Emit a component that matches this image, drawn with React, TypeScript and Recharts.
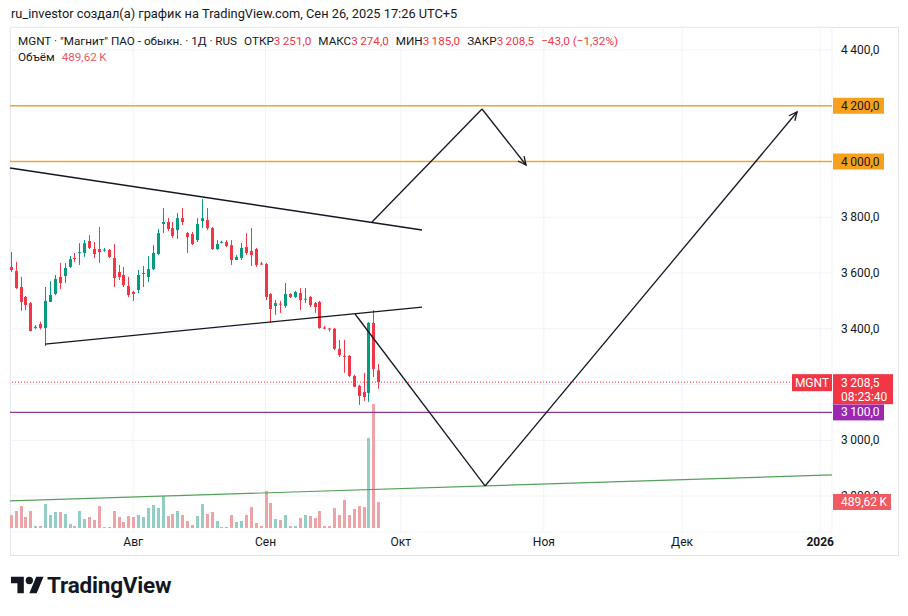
import React from 'react';
import { ComposedChart, Bar, XAxis, YAxis, CartesianGrid, ReferenceLine } from 'recharts';

// ---- data ----
const opens = [3622, 3607, 3550, 3514, 3492, 3403, 3417, 3403, 3496, 3525, 3586, 3589, 3622, 3654, 3672, 3672, 3715, 3686, 3686, 3681, 3683, 3654, 3604, 3593, 3554, 3532, 3539, 3597, 3586, 3614, 3668, 3776, 3783, 3761, 3754, 3797, 3743, 3740, 3718, 3786, 3790, 3761, 3686, 3709, 3711, 3700, 3647, 3654, 3693, 3679, 3686, 3634, 3632, 3525, 3482, 3490, 3482, 3525, 3514, 3528, 3505, 3514, 3492, 3496, 3404, 3401, 3400, 3328, 3303, 3303, 3231, 3195, 3173, 3170, 3421, 3251];
const highs = [3675, 3640, 3586, 3518, 3496, 3413, 3425, 3550, 3571, 3593, 3636, 3636, 3661, 3672, 3707, 3718, 3736, 3711, 3765, 3690, 3686, 3704, 3629, 3622, 3586, 3536, 3611, 3625, 3661, 3700, 3758, 3833, 3797, 3783, 3815, 3833, 3747, 3747, 3797, 3865, 3833, 3765, 3718, 3716, 3718, 3718, 3665, 3708, 3743, 3761, 3690, 3640, 3636, 3528, 3503, 3500, 3564, 3528, 3536, 3546, 3546, 3518, 3496, 3500, 3410, 3404, 3403, 3360, 3360, 3306, 3235, 3199, 3242, 3424, 3467, 3274];
const lows = [3604, 3543, 3464, 3467, 3390, 3398, 3398, 3338, 3496, 3520, 3543, 3564, 3618, 3640, 3629, 3658, 3686, 3654, 3636, 3676, 3654, 3550, 3575, 3550, 3514, 3500, 3528, 3550, 3568, 3611, 3665, 3743, 3751, 3726, 3722, 3772, 3672, 3700, 3711, 3761, 3754, 3683, 3683, 3706, 3693, 3629, 3647, 3647, 3665, 3625, 3622, 3629, 3503, 3421, 3450, 3457, 3475, 3510, 3510, 3467, 3492, 3478, 3457, 3400, 3398, 3390, 3324, 3299, 3242, 3227, 3190, 3127, 3141, 3138, 3227, 3185];
const closes = [3611, 3546, 3496, 3485, 3392, 3407, 3403, 3500, 3521, 3579, 3564, 3618, 3650, 3650, 3675, 3707, 3690, 3668, 3675, 3684, 3658, 3582, 3586, 3557, 3521, 3525, 3593, 3600, 3614, 3672, 3743, 3783, 3758, 3733, 3797, 3783, 3729, 3704, 3776, 3797, 3761, 3686, 3704, 3712, 3697, 3647, 3658, 3690, 3672, 3665, 3629, 3632, 3514, 3471, 3492, 3487, 3525, 3514, 3532, 3503, 3508, 3485, 3478, 3403, 3402, 3399, 3328, 3306, 3299, 3231, 3192, 3159, 3155, 3421, 3256, 3208.5];
const volumesK = [245, 320, 414, 207, 320, 38, 38, 452, 245, 301, 301, 264, 75, 38, 320, 169, 207, 151, 414, 19, 19, 320, 207, 113, 226, 207, 245, 207, 377, 433, 377, 603, 226, 264, 320, 245, 132, 56, 226, 452, 264, 301, 132, 19, 19, 245, 113, 132, 245, 395, 94, 38, 697, 471, 169, 151, 245, 38, 38, 188, 245, 226, 188, 320, 38, 38, 377, 245, 527, 245, 358, 414, 395, 1695, 2335, 489.62];

const monthTicks = [26, 53, 80.6, 109.8, 138, 166.2];
const monthLabels = ['Авг', 'Сен', 'Окт', 'Ноя', 'Дек', '2026'];
const priceTicks = [2800, 3000, 3200, 3400, 3600, 3800, 4000, 4200, 4400];
const hiddenPriceTicks = [3200, 4000, 4200];
const coveredPriceTicks = [2800];

const levelOrange = [4200, 4000];
const levelPurple = 3100;
const lastPrice = 3208.5;
const lastVolumeK = 489.62;

const upperTrend = [[0.857, 3976.7], [84.94, 3754.3]];
const lowerTrend = [[8.0, 3345], [84.94, 3478]];
const arrowUp = [[74.73, 3783], [97.18, 4188.4], [106.16, 3987.5]];
const arrowDown = [[71.27, 3453], [97.8, 2836.1], [161.47, 4177.6]];
const supportLine = [[0.857, 2782.3], [168.6, 2875.6]];

const X_DOMAIN = [0.857, 168.6];
const PRICE_DOMAIN = [2671, 4482.5];
const VOL_DOMAIN = [-75.3, 9433.8];

// ---- styles ----
const INK = '#131722';
const UP = '#089981';
const DOWN = '#f23645';
const UP_VOL = '#92cdc6';
const DOWN_VOL = '#eea4a7';
const ORANGE_LINE = '#f2a230';
const ORANGE_BOX = '#f7a01c';
const PURPLE_LINE = '#8b3a8f';
const PURPLE_BOX = '#9c27b0';
const GREEN_LINE = '#55a05a';
const GRID = '#f0f3fa';
const FONT = 'Roboto, "Noto Sans", sans-serif';

const data = opens.map((o, i) => ({
  idx: i + 1,
  range: [lows[i], highs[i]],
  open: o,
  high: highs[i],
  low: lows[i],
  close: closes[i],
  vol: volumesK[i],
}));

const fmtPrice = (v: number) => {
  const s = v.toFixed(1);
  const [int, dec] = s.split('.');
  const g = int.length > 3 ? int.slice(0, -3) + '\u2009' + int.slice(-3) : int;
  return g + ',' + dec;
};

const Candle = (props: any) => {
  const { x, y, width, height, payload } = props;
  if (x == null || y == null) return <g />;
  const top = Math.min(y, y + height);
  const bot = Math.max(y, y + height);
  const { open, close, high, low } = payload;
  const span = high - low;
  const pix = (v: number) => (span === 0 ? top : bot - ((v - low) / span) * (bot - top));
  const up = close >= open;
  const color = up ? UP : DOWN;
  const cx = Math.round(x + width / 2);
  const yo = pix(open);
  const yc = pix(close);
  const bt = Math.min(yo, yc);
  const bh = Math.max(1, Math.abs(yo - yc));
  return (
    <g>
      <line x1={cx + 0.5} x2={cx + 0.5} y1={top} y2={bot} stroke={color} strokeWidth={1} />
      <rect x={cx - 1} y={bt} width={3} height={bh} fill={color} />
    </g>
  );
};

const VolBar = (props: any) => {
  const { x, y, width, height, payload } = props;
  if (x == null || y == null) return <g />;
  const top = Math.min(y, y + height);
  const h = Math.abs(height);
  const cx = Math.round(x + width / 2);
  const color = payload.close >= payload.open ? UP_VOL : DOWN_VOL;
  return <rect x={cx - 1} y={top} width={3} height={Math.max(1, h)} fill={color} />;
};

const MonthTick = (props: any) => {
  const { x, y, payload } = props;
  const i = monthTicks.indexOf(payload.value);
  const label = i >= 0 ? monthLabels[i] : '';
  return (
    <text x={x} y={y + 14} textAnchor="middle" fontSize={12} fill={INK} fontFamily={FONT} fontWeight={label === '2026' ? 700 : 400}>
      {label}
    </text>
  );
};

const PriceTick = (props: any) => {
  const { x, y, payload } = props;
  if (hiddenPriceTicks.includes(payload.value)) return <g />;
  if (coveredPriceTicks.includes(payload.value)) {
    const id = `clip-tick-${payload.value}`;
    return (
      <g>
        <defs>
          <clipPath id={id}>
            <rect x={x} y={y - 12} width={76} height={10} />
          </clipPath>
        </defs>
        <text x={x + 9} y={y + 4} fontSize={12} fill={INK} fontFamily={FONT} clipPath={`url(#${id})`}>
          {fmtPrice(payload.value)}
        </text>
      </g>
    );
  }
  return (
    <text x={x + 9} y={y + 4} fontSize={12} fill={INK} fontFamily={FONT}>
      {fmtPrice(payload.value)}
    </text>
  );
};

const seg = (head: boolean) => (p: any) => {
  const { x1, y1, x2, y2 } = p;
  if (x1 == null || y1 == null) return <g />;
  const ang = Math.atan2(y2 - y1, x2 - x1);
  const L = 9;
  const a = Math.PI / 7;
  const hx1 = x2 - L * Math.cos(ang - a);
  const hy1 = y2 - L * Math.sin(ang - a);
  const hx2 = x2 - L * Math.cos(ang + a);
  const hy2 = y2 - L * Math.sin(ang + a);
  return (
    <g>
      <line x1={x1} y1={y1} x2={x2} y2={y2} stroke={INK} strokeWidth={1.3} />
      {head && <path d={`M${hx1},${hy1}L${x2},${y2}L${hx2},${hy2}`} fill="none" stroke={INK} strokeWidth={1.3} />}
    </g>
  );
};

const boxLabel = (text: string, fill: string, color: string, w: number) => (p: any) => {
  const vb = p.viewBox || {};
  const right = (vb.x || 0) + (vb.width || 0);
  const ly = vb.y || 0;
  return (
    <g>
      <rect x={right + 1} y={ly - 8} width={w} height={16} fill={fill} />
      <text x={right + 9} y={ly + 4} fontSize={12} fill={color} fontFamily={FONT}>{text}</text>
    </g>
  );
};

const lastPriceLabel = (p: any) => {
  const vb = p.viewBox || {};
  const right = (vb.x || 0) + (vb.width || 0);
  const ly = vb.y || 0;
  return (
    <g>
      <rect x={right - 40} y={ly - 8} width={40} height={17} fill={DOWN} />
      <text x={right - 20} y={ly + 4.5} textAnchor="middle" fontSize={12} fill="#fff" fontFamily={FONT}>MGNT</text>
      <rect x={right + 1} y={ly - 8} width={60} height={30} fill={DOWN} />
      <text x={right + 9} y={ly + 4.5} fontSize={12} fill="#fff" fontFamily={FONT}>{fmtPrice(lastPrice)}</text>
      <text x={right + 9} y={ly + 18.5} fontSize={12} fill="#fff" fontFamily={FONT}>08:23:40</text>
    </g>
  );
};

const segLines = (pts: number[][], head: boolean, key: string) =>
  pts.slice(1).map((pt, i) => (
    <ReferenceLine
      key={`${key}-${i}`}
      segment={[{ x: pts[i][0], y: pts[i][1] }, { x: pt[0], y: pt[1] }]}
      shape={seg(head && i === pts.length - 2)}
    />
  ));

const TVLogo = () => (
  <svg width="33" height="26" viewBox="0 0 36 28" style={{ position: 'absolute', left: 11, top: 573 }}>
    <path d="M14 22H7V11H0V4h14v18zM28 22h-8l7.5-18h8L28 22z" fill="#131722" />
    <circle cx="20" cy="8" r="4" fill="#131722" />
  </svg>
);

export default function App() {
  const red = { color: DOWN };
  return (
    <div style={{ position: 'fixed', left: 0, top: 0, width: 908, height: 616, background: '#fff', overflow: 'hidden', fontFamily: FONT }}>
      <div style={{ position: 'absolute', left: 10, top: 27, width: 889, height: 529, border: '1px solid #e0e3eb', boxSizing: 'border-box' }} />
      <div style={{ position: 'absolute', left: 0, top: 0 }}>
        <ComposedChart width={908} height={616} data={data} margin={{ top: 27, right: 0, bottom: 61, left: 10 }}>
          <CartesianGrid stroke={GRID} horizontal vertical />
          <XAxis
            dataKey="idx"
            type="number"
            domain={X_DOMAIN}
            allowDataOverflow
            ticks={monthTicks}
            tick={<MonthTick />}
            tickLine={false}
            axisLine={false}
            tickSize={0}
            tickMargin={0}
            height={23}
            interval={0}
          />
          <XAxis xAxisId="vx" dataKey="idx" type="number" domain={X_DOMAIN} allowDataOverflow hide />
          <YAxis
            orientation="right"
            type="number"
            domain={PRICE_DOMAIN}
            allowDataOverflow
            ticks={priceTicks}
            tick={<PriceTick />}
            tickLine={false}
            axisLine={false}
            tickSize={0}
            tickMargin={0}
            width={76}
            interval={0}
          />
          <YAxis yAxisId="vol" type="number" domain={VOL_DOMAIN} allowDataOverflow hide />
          <Bar xAxisId="vx" yAxisId="vol" dataKey="vol" shape={<VolBar />} isAnimationActive={false} />
          <Bar dataKey="range" shape={<Candle />} isAnimationActive={false} />

          <ReferenceLine y={levelOrange[0]} stroke={ORANGE_LINE} strokeWidth={1.3} label={boxLabel(fmtPrice(levelOrange[0]), ORANGE_BOX, INK, 51)} />
          <ReferenceLine y={levelOrange[1]} stroke={ORANGE_LINE} strokeWidth={1.3} label={boxLabel(fmtPrice(levelOrange[1]), ORANGE_BOX, INK, 51)} />
          <ReferenceLine y={levelPurple} stroke={PURPLE_LINE} strokeWidth={1.2} label={boxLabel(fmtPrice(levelPurple), PURPLE_BOX, '#fff', 51)} />
          <ReferenceLine y={lastPrice} stroke={DOWN} strokeWidth={1} strokeDasharray="1 2" label={lastPriceLabel} />
          <ReferenceLine
            segment={[{ x: supportLine[0][0], y: supportLine[0][1] }, { x: supportLine[1][0], y: supportLine[1][1] }]}
            stroke={GREEN_LINE}
            strokeWidth={1.2}
          />
          {segLines(upperTrend, false, 'ut')}
          {segLines(lowerTrend, false, 'lt')}
          {segLines(arrowUp, true, 'au')}
          {segLines(arrowDown, true, 'ad')}
          <ReferenceLine
            xAxisId="vx"
            yAxisId="vol"
            y={lastVolumeK}
            stroke="none"
            label={boxLabel('489,62\u2009K', '#f05a60', '#fff', 58)}
          />
        </ComposedChart>
      </div>

      <div style={{ position: 'absolute', left: 11, top: 6, fontSize: 12.8, lineHeight: '16px', color: INK, whiteSpace: 'nowrap' }}>
        ru_investor создал(а) график на TradingView.com, Сен 26, 2025 17:26 UTC+5
      </div>
      <div style={{ position: 'absolute', left: 18, top: 33, fontSize: 11.7, lineHeight: '16px', color: INK, whiteSpace: 'nowrap' }}>
        <span>MGNT · "Магнит" ПАО - обыкн. · 1Д · RUS</span>
        <span style={{ marginLeft: 7 }}>ОТКР</span><span style={red}>{fmtPrice(3251)}</span>
        <span style={{ marginLeft: 7 }}>МАКС</span><span style={red}>{fmtPrice(3274)}</span>
        <span style={{ marginLeft: 7 }}>МИН</span><span style={red}>{fmtPrice(3185)}</span>
        <span style={{ marginLeft: 7 }}>ЗАКР</span><span style={red}>{fmtPrice(3208.5)}</span>
        <span style={{ marginLeft: 7, ...red }}>−43,0 (−1,32%)</span>
      </div>
      <div style={{ position: 'absolute', left: 18, top: 49, fontSize: 11.7, lineHeight: '16px', color: INK, whiteSpace: 'nowrap' }}>
        <span>Объём</span>
        <span style={{ marginLeft: 7, color: '#e8575e' }}>489,62{'\u2009'}K</span>
      </div>

      <TVLogo />
      <div style={{ position: 'absolute', left: 47, top: 571, fontSize: 22.5, lineHeight: '28px', fontWeight: 700, color: INK, whiteSpace: 'nowrap', letterSpacing: -0.2 }}>
        TradingView
      </div>
    </div>
  );
}
